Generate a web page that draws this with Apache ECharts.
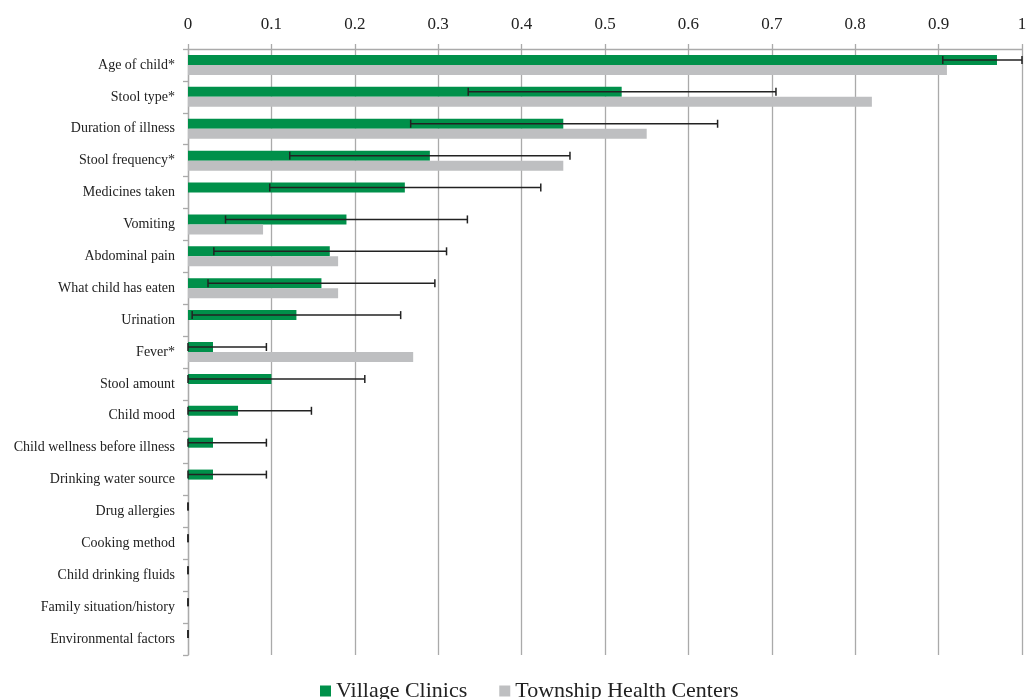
<!DOCTYPE html>
<html>
<head>
<meta charset="utf-8">
<script src="https://cdn.jsdelivr.net/npm/echarts@6/dist/echarts.min.js"></script>
<style>
  html, body { margin: 0; padding: 0; background: #fff; }
  #chart { width: 1032px; height: 699px; }
</style>
</head>
<body>
<div id="chart"></div>
<script>
// Topics asked about during consultations, top to bottom
const categories = [
  'Age of child*', 'Stool type*', 'Duration of illness', 'Stool frequency*',
  'Medicines taken', 'Vomiting', 'Abdominal pain', 'What child has eaten',
  'Urination', 'Fever*', 'Stool amount', 'Child mood',
  'Child wellness before illness', 'Drinking water source', 'Drug allergies',
  'Cooking method', 'Child drinking fluids', 'Family situation/history',
  'Environmental factors'
];

// Proportion of consultations, by facility type
const villageClinics = [0.97, 0.52, 0.45, 0.29, 0.26, 0.19, 0.17, 0.16, 0.13, 0.03, 0.10, 0.06, 0.03, 0.03, 0, 0, 0, 0, 0];
const townshipCenters = [0.91, 0.82, 0.55, 0.45, 0, 0.09, 0.18, 0.18, 0, 0.27, 0, 0, 0, 0, 0, 0, 0, 0, 0];

// 95% confidence interval for village clinics (lower, upper)
const villageLow = [0.905, 0.336, 0.267, 0.122, 0.098, 0.045, 0.031, 0.024, 0.005, 0, 0, 0, 0, 0, 0, 0, 0, 0, 0];
const villageHigh = [1.0, 0.705, 0.635, 0.458, 0.423, 0.335, 0.31, 0.296, 0.255, 0.094, 0.212, 0.148, 0.094, 0.094, 0, 0, 0, 0, 0];

const FONT = 'Liberation Serif, Times New Roman, serif';
const BAR_W = 10;

const errorData = categories.map((c, i) => [i, villageLow[i], villageHigh[i]]);

const chart = echarts.init(document.getElementById('chart'));
chart.setOption({
  animation: false,
  backgroundColor: '#fff',
  grid: { left: 188, right: 10, top: 49, bottom: 44 },
  legend: {
    data: ['Village Clinics', 'Township Health Centers'],
    top: 675,
    left: 315,
    icon: 'rect',
    itemWidth: 11,
    itemHeight: 11,
    itemGap: 32,
    textStyle: { fontFamily: FONT, fontSize: 22, color: '#222' }
  },
  xAxis: {
    type: 'value',
    position: 'top',
    min: 0,
    max: 1,
    interval: 0.1,
    axisLine: { show: true, lineStyle: { color: '#aaa', width: 1.3 } },
    axisTick: { show: true, length: 5, lineStyle: { color: '#aaa', width: 1.3 } },
    axisLabel: { fontFamily: FONT, fontSize: 17, color: '#222', margin: 16 },
    splitLine: { show: true, lineStyle: { color: '#aaa', width: 1.3 } }
  },
  yAxis: {
    type: 'category',
    data: categories,
    inverse: true,
    axisLine: { show: true, lineStyle: { color: '#aaa', width: 1.3 } },
    axisTick: { show: true, length: 5, lineStyle: { color: '#aaa', width: 1.3 } },
    axisLabel: { fontFamily: FONT, fontSize: 14, color: '#222', margin: 13 }
  },
  series: [
    {
      name: 'Village Clinics',
      type: 'bar',
      data: villageClinics,
      barWidth: BAR_W,
      barGap: '0%',
      itemStyle: { color: '#00904A' }
    },
    {
      name: 'Township Health Centers',
      type: 'bar',
      data: townshipCenters,
      barWidth: BAR_W,
      barGap: '0%',
      itemStyle: { color: '#BEBFC1' }
    },
    {
      name: 'CI',
      type: 'custom',
      data: errorData,
      encode: { x: [1, 2], y: 0 },
      z: 10,
      renderItem: function (params, api) {
        const idx = api.value(0);
        const lo = api.coord([api.value(1), idx]);
        const hi = api.coord([api.value(2), idx]);
        const y = lo[1] - BAR_W / 2;
        const cap = 4;
        const style = { stroke: '#222', lineWidth: 1.5 };
        return {
          type: 'group',
          children: [
            { type: 'line', shape: { x1: lo[0], y1: y, x2: hi[0], y2: y }, style: style },
            { type: 'line', shape: { x1: lo[0], y1: y - cap, x2: lo[0], y2: y + cap }, style: style },
            { type: 'line', shape: { x1: hi[0], y1: y - cap, x2: hi[0], y2: y + cap }, style: style }
          ]
        };
      }
    }
  ]
});
</script>
</body>
</html>
